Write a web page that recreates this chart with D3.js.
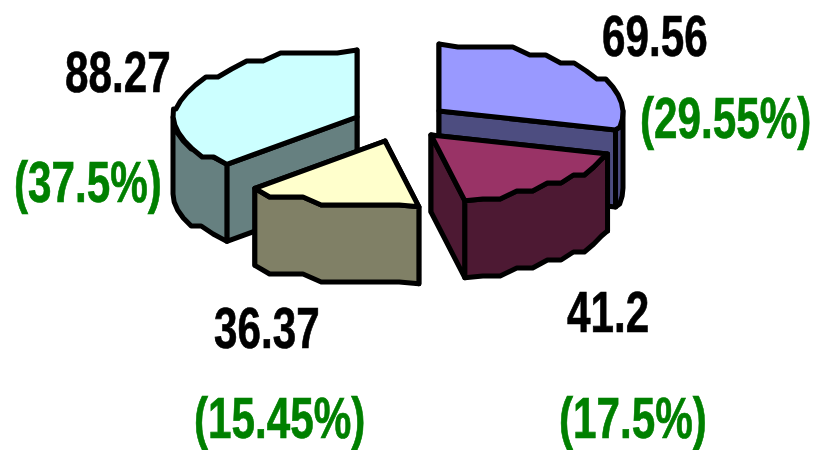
<!DOCTYPE html>
<html><head><meta charset="utf-8">
<script src="https://cdn.jsdelivr.net/npm/d3@7"></script>
<style>html,body{margin:0;padding:0;background:#fff;overflow:hidden}svg{display:block}
text{font-family:"Liberation Sans",Arial,sans-serif;font-weight:700;font-size:58px;stroke-width:0.7px}</style>
</head><body><svg id="c" width="813" height="450"></svg>
<script>
const values=[69.56,41.2,36.37,88.27];
const percents=["29.55","17.5","15.45","37.5"];
const topColors=["#9999ff","#993366","#ffffcc","#ccffff"];
const sideColors=["#4d4d80","#4d1933","#808066","#668080"];
const valueColor="#000000", pctColor="#008000";

// layout
const apexes=[[439,111],[431,135],[385,141],[357,117]];
const valueAt=[[602,56],[567,332],[214,348],[65,92]];
const pctAt=[[640,138],[559,438],[194,438],[14,202]];
const depth=77, rx=184, ry=67, stretch=0.728, snapY=8, stepDeg=6;

const svg=d3.select("#c");
const arcs=d3.pie().sort(null)(values);
const X=d3.scaleLinear().domain([-1,1]).range([-rx,rx]);
const Y=d3.scaleLinear().domain([-1,1]).range([ry,-ry]);
const pt=(c,a,dz=0)=>[c[0]+X(Math.sin(a)),c[1]+Y(Math.cos(a))+dz];
function rim(c,a0,a1,dz=0){
  const step=stepDeg*Math.PI/180, pts=[pt(c,a0,dz)];
  const n=Math.max(1,Math.round((a1-a0)/step));
  for(let i=1;i<n;i++){
    const a=a0+(a1-a0)*i/n;
    const y=Y(Math.cos(a));
    pts.push([c[0]+X(Math.sin(a)),c[1]+Math.round(y/snapY)*snapY+dz]);
  }
  pts.push(pt(c,a1,dz));
  return pts;
}
const line=d3.line();
function poly(g,pts,fill){
  g.append("path").attr("d",line(pts)+"Z").attr("fill",fill)
   .attr("stroke","#000").attr("stroke-width",5).attr("stroke-linejoin","round");
}
const order=[0,3,1,2];
order.forEach(i=>{
  const d=arcs[i], c=apexes[i], g=svg.append("g");
  const ends=[d.startAngle,d.endAngle].sort((p,q)=>pt(c,p)[1]-pt(c,q)[1]);
  ends.forEach(a=>{
    const p=pt(c,a);
    poly(g,[c,p,[p[0],p[1]+depth],[c[0],c[1]+depth]],sideColors[i]);
  });
  const a0=Math.max(d.startAngle,Math.PI/2), a1=Math.min(d.endAngle,3*Math.PI/2);
  if(a1>a0){
    poly(g,[...rim(c,a0,a1),...rim(c,a0,a1,depth).reverse()],sideColors[i]);
  }
  poly(g,[c,...rim(c,d.startAngle,d.endAngle)],topColors[i]);
});
function label(txt,at,col){
  svg.append("text").attr("transform",`translate(${at[0]},${at[1]}) scale(${stretch},1)`)
     .attr("fill",col).attr("stroke",col).text(txt);
}
values.forEach((v,i)=>{
  label(String(v),valueAt[i],valueColor);
  label(`(${percents[i]}%)`,pctAt[i],pctColor);
});
</script></body></html>
